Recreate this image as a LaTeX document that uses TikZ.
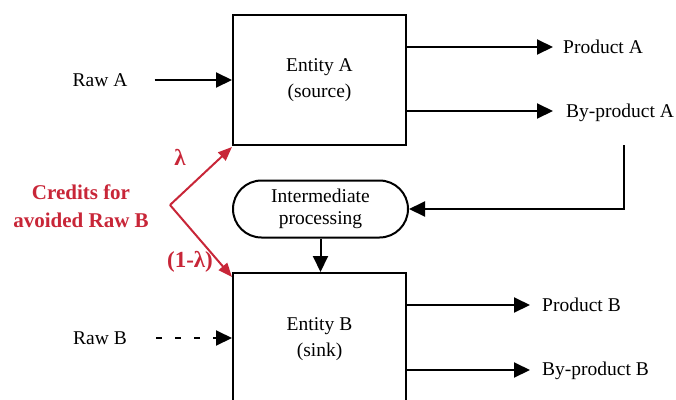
\documentclass[tikz,border=0pt]{standalone}
\usepackage{fontspec}
\setmainfont{Liberation Serif}
\usetikzlibrary{arrows.meta,shapes.misc}
\definecolor{credred}{RGB}{200,38,56}
\begin{document}
\begin{tikzpicture}[x=1pt,y=-1pt,
  every node/.style={font=\fontsize{19.5}{22}\selectfont},
  ent/.style={draw,line width=2pt,minimum width=173pt,align=center,inner sep=0pt,font=\fontsize{19.5}{25.5}\selectfont},
  flow/.style={line width=2pt,-{Triangle[length=16pt,width=15pt]}},
  redflow/.style={line width=2pt,draw=credred,-{Triangle[length=14pt,width=11pt]},fill=credred},
  lbl/.style={inner sep=0pt},
  redlbl/.style={text=credred,font=\fontsize{21}{28}\selectfont\bfseries,align=center,inner sep=0pt},
  lamlbl/.style={text=credred,font=\fontsize{23}{28}\selectfont\bfseries,inner sep=0pt}]
\useasboundingbox (0,0) rectangle (676,399);
\clip (0,0) rectangle (676,399);
% boxes
\node[ent,minimum height=130pt] (entA) at (319.5,80) {Entity A\\(source)};
\node[ent,minimum height=132pt] (entB) at (319.5,339) {Entity B\\(sink)};
\node[draw,line width=2pt,rounded rectangle,minimum width=175pt,minimum height=57pt,align=center,inner sep=0pt] (pill) at (320.5,209) {Intermediate\\processing};
% labels
\node[lbl] (rawA) at (100,80) {Raw A};
\node[lbl] (rawB) at (100,338) {Raw B};
\node[lbl,anchor=west] (prodA) at (563,47) {Product A};
\node[lbl,anchor=west] (byA) at (566,113) {By-product A};
\node[lbl,anchor=west] (prodB) at (542,305) {Product B};
\node[lbl,anchor=west] (byB) at (542,371) {By-product B};
% flows
\draw[flow,shorten <=27pt] (rawA.east) -- (entA.west |- rawA.east);
\draw[flow,dash pattern=on 6pt off 13pt,shorten <=29pt] (rawB.east) -- (entB.west |- rawB.east);
\draw[flow,shorten >=10pt] (entA.east |- prodA.west) -- (prodA.west);
\draw[flow,shorten >=13pt] (entA.east |- 0,111) -- (byA.west |- 0,111);
\draw[flow,shorten >=12pt] (entB.east |- prodB.west) -- (prodB.west);
\draw[flow,shorten >=12pt] (entB.east |- 0,370) -- (byB.west |- 0,370);
\coordinate (fb) at (624,145);
\draw[flow] (fb) |- (pill.east);
\draw[flow] (pill.south) -- (pill.south |- entB.north);
% credits
\node[redlbl] (cred) at (81,206) {Credits for\\avoided Raw B};
\coordinate (cv) at (170,205);
\draw[redflow] (cv) -- ([yshift=-1pt]entA.south west);
\draw[redflow] (cv) -- ([yshift=-5pt]entB.north west);
\node[lamlbl] (lam) at (180,157) {λ};
\node[lamlbl] (lam2) at (190,262) {(1-λ)};
\end{tikzpicture}
\end{document}
